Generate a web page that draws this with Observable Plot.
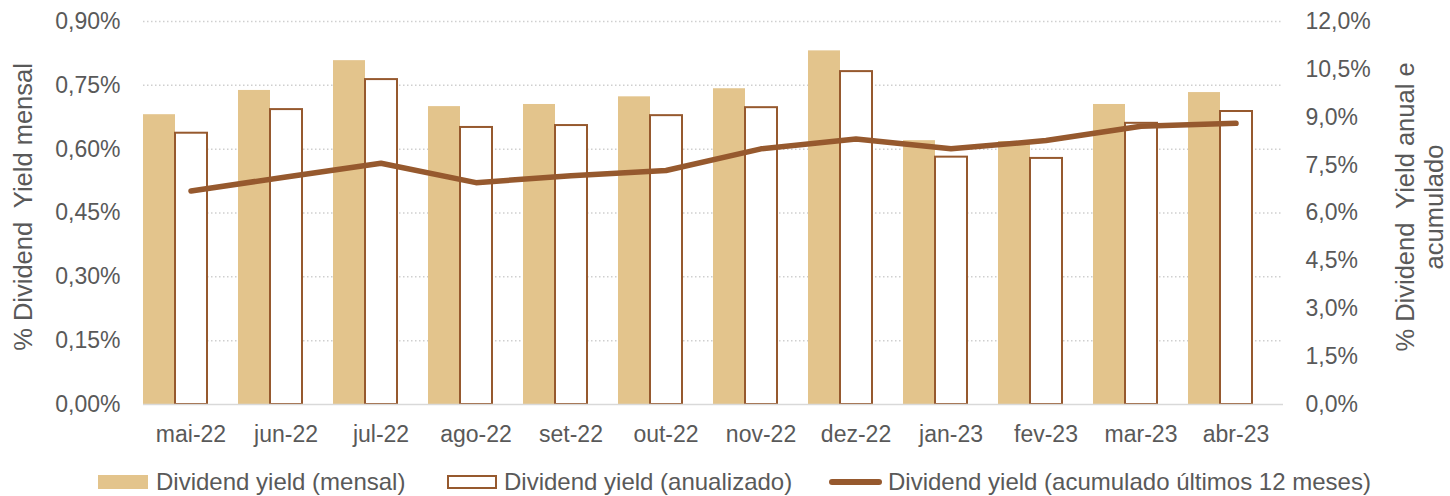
<!DOCTYPE html>
<html>
<head>
<meta charset="utf-8">
<script src="https://cdn.jsdelivr.net/npm/d3@7"></script>
<script src="https://cdn.jsdelivr.net/npm/@observablehq/plot@0.6"></script>
<style>
  html, body { margin: 0; padding: 0; background: #fff; }
  body { width: 1450px; height: 496px; overflow: hidden; font-family: "Liberation Sans", Arial, sans-serif; }
  #chart { position: relative; width: 1450px; height: 455px; }
  #legend { position: relative; width: 1450px; height: 41px; color: #595959; font-size: 24px; }
  #legend .sw { position: absolute; box-sizing: border-box; }
  #legend .lbl { position: absolute; top: 13px; line-height: 28px; white-space: nowrap; }
</style>
</head>
<body>
<div id="chart"></div>
<div id="legend"></div>
<script>
// ---- data ----
const months = ["mai-22","jun-22","jul-22","ago-22","set-22","out-22","nov-22","dez-22","jan-23","fev-23","mar-23","abr-23"];
const mensal = [0.681, 0.738, 0.808, 0.700, 0.705, 0.723, 0.742, 0.831, 0.620, 0.618, 0.705, 0.733];      // % (left axis)
const anualizado = [8.50, 9.24, 10.18, 8.68, 8.74, 9.05, 9.30, 10.43, 7.75, 7.71, 8.81, 9.18];            // % (right axis)
const acumulado = [6.69, 7.13, 7.56, 6.95, 7.17, 7.33, 8.01, 8.32, 8.01, 8.27, 8.72, 8.81];              // % (right axis)
const leftTicks = [0, 0.15, 0.30, 0.45, 0.60, 0.75, 0.90];
const rightTicks = [0, 1.5, 3.0, 4.5, 6.0, 7.5, 9.0, 10.5, 12.0];
const leftMax = 0.90, rightMax = 12.0;
const seriesNames = ["Dividend yield (mensal)", "Dividend yield (anualizado)", "Dividend yield (acumulado últimos 12 meses)"];
const leftTitle = "% Dividend  Yield mensal";
const rightTitle = "% Dividend  Yield anual e\nacumulado";

// ---- styles ----
const cMensal = "#E3C48C";
const cBrown = "#96592E";
const cText = "#595959";
const ratio = leftMax / rightMax; // right-axis value -> left-axis units
const barW = 32 / 95;

const rows = months.map((m, i) => ({i, m, mensal: mensal[i], anual: anualizado[i] * ratio, acum: acumulado[i] * ratio}));
const fmtL = v => v.toFixed(2).replace(".", ",") + "%";
const fmtR = v => (v / ratio).toFixed(1).replace(".", ",") + "%";

const chart = Plot.plot({
  width: 1450,
  height: 455,
  marginTop: 21,
  marginBottom: 51,
  marginLeft: 143,
  marginRight: 167,
  style: {fontFamily: '"Liberation Sans", Arial, sans-serif', fontSize: "23px", color: cText, background: "#fff"},
  x: {type: "linear", domain: [0, months.length], axis: null},
  y: {domain: [0, leftMax], axis: null},
  marks: [
    Plot.ruleY(leftTicks.filter(t => t > 0), {stroke: "#cfcfcf", strokeWidth: 1.5, strokeDasharray: "1.5,2.5"}),
    Plot.rectY(rows, {x1: d => d.i, x2: d => d.i + barW, y: "mensal", fill: cMensal}),
    Plot.rectY(rows, {x1: d => d.i + barW, x2: d => d.i + 2 * barW, y: "anual", fill: "#fff", stroke: cBrown, strokeWidth: 2}),
    Plot.ruleY([0], {stroke: "#d9d9d9", strokeWidth: 1.5}),
    Plot.line(rows, {x: d => d.i + 0.5, y: "acum", stroke: cBrown, strokeWidth: 5.5, strokeLinecap: "round", strokeLinejoin: "round"}),
    Plot.axisY({anchor: "left", ticks: leftTicks, tickFormat: fmtL, tickSize: 0, tickPadding: 23, fontSize: 23, fill: cText, label: null}),
    Plot.axisY({anchor: "right", ticks: rightTicks.map(t => t * ratio), tickFormat: fmtR, tickSize: 0, tickPadding: 22, fontSize: 23, fill: cText, label: null, textAnchor: "start"}),
    Plot.axisX({ticks: months.map((_, i) => i + 0.5), tickFormat: d => months[Math.floor(d)], tickSize: 0, tickPadding: 21, fontSize: 23, fill: cText, label: null}),
    Plot.text([leftTitle], {frameAnchor: "left", text: d => d, rotate: -90, dx: -120, dy: -6, fontSize: 25.5, fill: cText, textAnchor: "middle"}),
    Plot.text([rightTitle], {frameAnchor: "right", text: d => d, rotate: -90, dx: 136, dy: -6, fontSize: 25.5, lineHeight: 1.12, fill: cText, textAnchor: "middle"})
  ]
});
document.getElementById("chart").appendChild(chart);

// ---- legend ----
const legend = document.getElementById("legend");
const items = [
  {swX: 98, swW: 50, type: "fill", lblX: 156},
  {swX: 447, swW: 50, type: "outline", lblX: 504},
  {swX: 829, swW: 53, type: "line", lblX: 888}
];
items.forEach((it, k) => {
  const sw = document.createElement("div");
  sw.className = "sw";
  sw.style.left = it.swX + "px";
  sw.style.width = it.swW + "px";
  if (it.type === "fill") {
    sw.style.top = "20px"; sw.style.height = "14px"; sw.style.background = cMensal;
  } else if (it.type === "outline") {
    sw.style.top = "20px"; sw.style.height = "14px"; sw.style.background = "#fff"; sw.style.border = "2px solid " + cBrown;
  } else {
    sw.style.top = "24px"; sw.style.height = "6px"; sw.style.background = cBrown; sw.style.borderRadius = "3px";
  }
  legend.appendChild(sw);
  const lbl = document.createElement("div");
  lbl.className = "lbl";
  lbl.style.left = it.lblX + "px";
  lbl.textContent = seriesNames[k];
  legend.appendChild(lbl);
});
</script>
</body>
</html>
